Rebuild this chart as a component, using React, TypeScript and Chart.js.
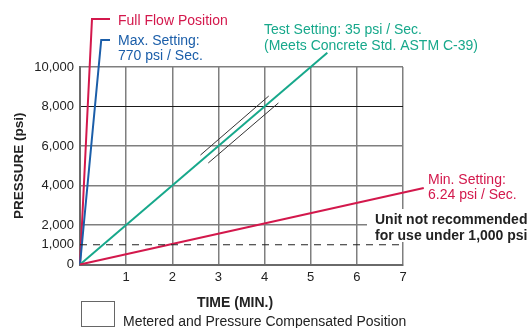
import { useEffect, useRef } from 'react';
import { Chart, registerables } from 'chart.js';
Chart.register(...registerables);

const xTickValues = [0, 1, 2, 3, 4, 5, 6, 7];
const yTickValues = [0, 1000, 2000, 4000, 6000, 8000, 10000];

const fullFlowLine = [
  { x: 0, y: 0 },
  { x: 0.26, y: 12430 },
  { x: 0.65, y: 12430 },
];
const maxSettingLine = [
  { x: 0, y: 0 },
  { x: 0.46, y: 11370 },
  { x: 0.65, y: 11370 },
];
const testSettingLine = [
  { x: 0, y: 0 },
  { x: 5.36, y: 10720 },
];
const minSettingLine = [
  { x: 0, y: 0 },
  { x: 7.45, y: 3870 },
];
const bracketUpper = [
  { x: 2.61, y: 5540 },
  { x: 4.09, y: 8530 },
];
const bracketLower = [
  { x: 2.78, y: 5140 },
  { x: 4.3, y: 8180 },
];
const thresholdLine = [
  { x: 0, y: 1000 },
  { x: 7, y: 1000 },
];

const RED = '#d3184c';
const BLUE = '#1b5ea9';
const TEAL = '#17a88b';
const FONT = '"Liberation Sans", Arial, Helvetica, sans-serif';

const annotations = {
  id: 'annotations',
  afterDraw(chart: any) {
    const ctx = chart.ctx as CanvasRenderingContext2D;
    ctx.save();
    // white box behind note
    ctx.fillStyle = '#ffffff';
    ctx.fillRect(367, 209, 160, 33);
    ctx.textBaseline = 'alphabetic';
    ctx.textAlign = 'left';
    ctx.font = `14px ${FONT}`;
    ctx.fillStyle = RED;
    ctx.fillText('Full Flow Position', 118, 24.5);
    ctx.fillStyle = BLUE;
    ctx.fillText('Max. Setting:', 118, 44.5);
    ctx.fillText('770 psi / Sec.', 118, 59.5);
    ctx.fillStyle = TEAL;
    ctx.fillText('Test Setting: 35 psi / Sec.', 264, 33.5);
    ctx.fillText('(Meets Concrete Std. ASTM C-39)', 264, 49.5);
    ctx.fillStyle = RED;
    ctx.fillText('Min. Setting:', 428, 183.5);
    ctx.fillText('6.24 psi / Sec.', 428, 198.5);
    ctx.fillStyle = '#222222';
    ctx.font = `bold 14px ${FONT}`;
    ctx.fillText('Unit not recommended', 375, 223.5);
    ctx.fillText('for use under 1,000 psi', 375, 239.5);
    ctx.textAlign = 'center';
    ctx.fillText('TIME (MIN.)', 235, 307);
    ctx.textAlign = 'left';
    ctx.font = `14px ${FONT}`;
    ctx.fillText('Metered and Pressure Compensated Position', 123, 326);
    ctx.strokeStyle = '#666666';
    ctx.lineWidth = 1;
    ctx.strokeRect(81.5, 301.5, 33, 25);
    ctx.restore();
  },
};

export default function App() {
  const ref = useRef<HTMLCanvasElement>(null);
  useEffect(() => {
    document.body.style.margin = '0';
    const lineDs = (data: any[], color: string, width: number, extra: any = {}) => ({
      data,
      borderColor: color,
      backgroundColor: color,
      borderWidth: width,
      pointRadius: 0,
      fill: false,
      clip: false,
      tension: 0,
      ...extra,
    });
    const chart = new Chart(ref.current!, {
      type: 'line',
      data: {
        datasets: [
          lineDs(thresholdLine, '#222222', 1, { borderDash: [7, 6] }),
          lineDs(bracketUpper, '#333333', 1),
          lineDs(bracketLower, '#333333', 1),
          lineDs(minSettingLine, RED, 2),
          lineDs(testSettingLine, TEAL, 2),
          lineDs(maxSettingLine, BLUE, 2),
          lineDs(fullFlowLine, RED, 2),
        ] as any,
      },
      options: {
        animation: false,
        responsive: false,
        layout: { padding: { left: 0, right: 124, top: 67, bottom: 0 } },
        plugins: { legend: { display: false }, tooltip: { enabled: false } },
        scales: {
          x: {
            type: 'linear',
            min: 0,
            max: 7,
            afterBuildTicks: (s: any) => {
              s.ticks = xTickValues.map((v) => ({ value: v }));
            },
            afterFit: (s: any) => {
              s.height = 63.5;
            },
            ticks: {
              padding: 5,
              color: '#222',
              font: { family: FONT, size: 13 },
              callback: (v: any) => (v === 0 ? '' : String(v)),
            },
            grid: {
              drawTicks: false,
              color: '#7f7f7f',
              lineWidth: 1.5,
            },
            border: { color: '#6a6a6a', width: 2 },
          },
          y: {
            type: 'linear',
            min: 0,
            max: 10000,
            afterBuildTicks: (s: any) => {
              s.ticks = yTickValues.map((v) => ({ value: v }));
            },
            afterFit: (s: any) => {
              s.width = 80;
            },
            title: {
              display: true,
              text: 'PRESSURE (psi)',
              color: '#222',
              font: { family: FONT, size: 13.5, weight: 'bold' },
              padding: { top: 11, bottom: 4 },
            },
            ticks: {
              padding: 6,
              color: '#222',
              font: { family: FONT, size: 13 },
              callback: (v: any) => Number(v).toLocaleString('en-US'),
            },
            grid: {
              drawTicks: false,
              color: (c: any) => {
                const v = c.tick?.value;
                if (v === 1000) return 'rgba(0,0,0,0)';
                if (v === 8000) return '#1a1a1a';
                return '#7f7f7f';
              },
              lineWidth: (c: any) => (c.tick?.value === 8000 ? 1 : 1.5),
            },
            border: { color: '#6a6a6a', width: 2 },
          },
        },
      },
      plugins: [annotations],
    });
    return () => chart.destroy();
  }, []);
  return <canvas ref={ref} width={527} height={328} style={{ display: 'block' }} />;
}
